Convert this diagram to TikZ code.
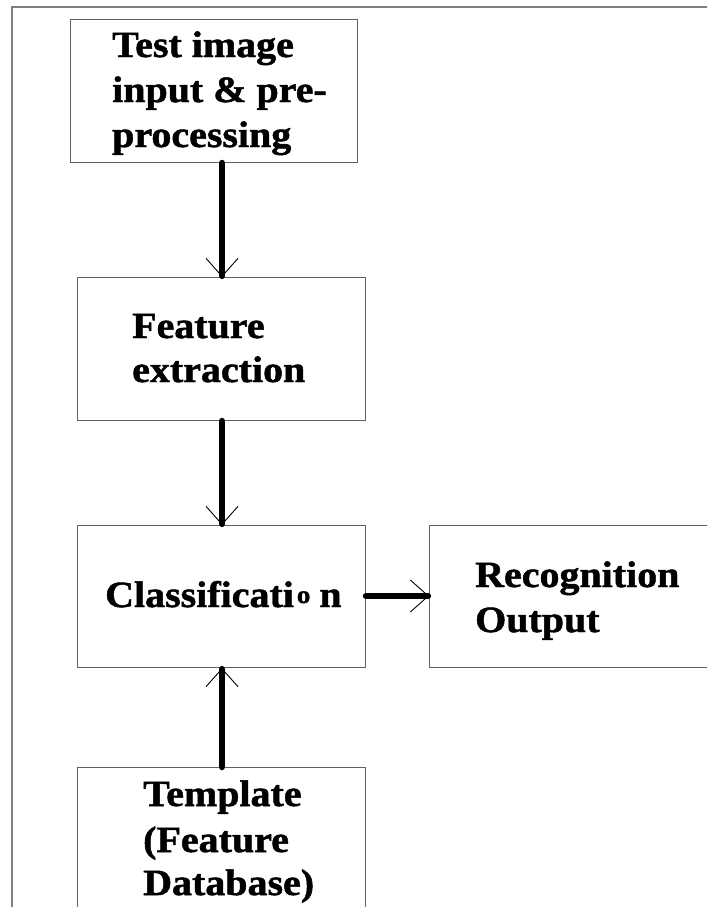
\documentclass[tikz,border=0pt]{standalone}
\usepackage{fontspec}
\setmainfont{Liberation Serif}[FakeStretch=1.08, BoldFeatures={FakeBold=1.3}]
\usetikzlibrary{arrows.meta}
\definecolor{boxgray}{RGB}{95,95,95}
\definecolor{framegray}{RGB}{128,128,128}
\tikzset{
  stagebox/.style={draw=boxgray, line width=1pt, inner sep=0pt, anchor=north west},
  lbl/.style={anchor=base west, inner sep=0pt, font=\fontsize{37}{45}\selectfont\bfseries},
  flow/.style={line width=6.5pt, line cap=round,
    -{Straight Barb[length=18pt, width=32pt, line width=0.9pt 0]}},
}
\begin{document}
\begin{tikzpicture}[x=1pt,y=-1pt]
\useasboundingbox (0,0) rectangle (707,907);
\clip (0,0) rectangle (707,907);
% frame
\draw[framegray, line width=2pt] (12,920) -- (12,7) -- (720,7);
% boxes
\node[stagebox, minimum width=287pt, minimum height=143pt] (b1) at (70,19) {};
\node[stagebox, minimum width=288pt, minimum height=143pt] (b2) at (77,277) {};
\node[stagebox, minimum width=288pt, minimum height=142pt] (b3) at (77,525) {};
\node[stagebox, minimum width=300pt, minimum height=142pt] (b4) at (429,525) {};
\node[stagebox, minimum width=288pt, minimum height=160pt] (b5) at (77,767) {};
% texts
\node[lbl] (t1a) at (112,57) {Test image};
\node[lbl] (t1b) at (112,102) {input \& pre-};
\node[lbl] (t1c) at (112,147) {processing};
\node[lbl] (t2a) at (132,338) {Feature};
\node[lbl] (t2b) at (132,382) {extraction};
\node[lbl] (t3a) at (105,607) {Classificati\hspace{3pt}\raisebox{4pt}{\fontsize{25}{25}\selectfont o}\hspace{9pt}n};
\node[lbl] (t4a) at (475,587) {Recognition};
\node[lbl] (t4b) at (475,632) {Output};
\node[lbl] (t5a) at (143,806) {Template};
\node[lbl] (t5b) at (143,852) {(Feature};
\node[lbl] (t5c) at (143,895) {Database)};
% connectors
\draw[flow] (b1.south -| 222,0) -- (b2.north -| 222,0);
\draw[flow] (b2.south -| 222,0) -- (b3.north -| 222,0);
\draw[flow] (b5.north -| 222,0) -- (b3.south -| 222,0);
\draw[flow] (b3.east |- 0,596) -- (b4.west |- 0,596);
\end{tikzpicture}
\end{document}
